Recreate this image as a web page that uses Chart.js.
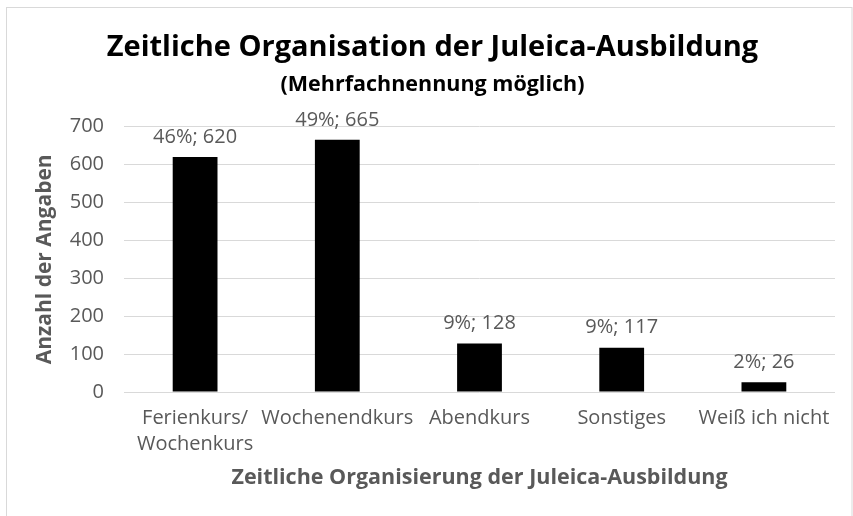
<!DOCTYPE html>
<html>
<head>
<meta charset="utf-8">
<script src="https://cdn.jsdelivr.net/npm/chart.js@4.4.0/dist/chart.umd.min.js"></script>
<style>
  html, body { margin: 0; padding: 0; background: #fff; }
  #wrap { width: 853px; height: 516px; position: relative; }
</style>
</head>
<body>
<div id="wrap"><canvas id="chart"></canvas></div>
<script>
// chart data
const categories = [["Ferienkurs/", "Wochenkurs"], "Wochenendkurs", "Abendkurs", "Sonstiges", "Weiß ich nicht"];
const counts = [620, 665, 128, 117, 26];
const percents = ["46%", "49%", "9%", "9%", "2%"];
const yTicks = [0, 100, 200, 300, 400, 500, 600, 700];

const grey = "#595959";
const fontFamily = "'Open Sans', Roboto, sans-serif";

// draws "46%; 620" above each bar
const barLabels = {
  id: "barLabels",
  afterDatasetsDraw(chart) {
    const ctx = chart.ctx;
    const meta = chart.getDatasetMeta(0);
    ctx.save();
    ctx.font = "20px " + fontFamily;
    ctx.fillStyle = grey;
    ctx.textAlign = "center";
    ctx.textBaseline = "middle";
    meta.data.forEach(function (bar, i) {
      ctx.fillText(percents[i] + "; " + counts[i], bar.x, bar.y - 20);
    });
    ctx.restore();
  },
};

// thin frame round the whole chart
const frame = {
  id: "frame",
  beforeDraw(chart) {
    const ctx = chart.ctx;
    ctx.save();
    ctx.strokeStyle = "#d9d9d9";
    ctx.lineWidth = 1;
    ctx.strokeRect(6.5, 7.5, 845.5, 520);
    ctx.restore();
  },
};

let ctx = document.getElementById("chart").getContext("2d");

let config = {
  type: "bar",
  data: {
    labels: categories,
    datasets: [
      {
        data: counts,
        backgroundColor: "#000000",
        barPercentage: 0.63,
        categoryPercentage: 0.5,
      },
    ],
  },
  options: {
    responsive: true,
    maintainAspectRatio: false,
    animation: false,
    layout: {
      padding: { left: 30, right: 18, top: 0, bottom: 25 },
    },
    plugins: {
      legend: { display: false },
      tooltip: { enabled: false },
      title: {
        display: true,
        text: "Zeitliche Organisation der Juleica-Ausbildung",
        color: "#000000",
        font: { family: fontFamily, size: 29, weight: "bold", lineHeight: 1.2 },
        padding: { top: 30, bottom: 4 },
      },
      subtitle: {
        display: true,
        text: "(Mehrfachnennung möglich)",
        color: "#000000",
        font: { family: fontFamily, size: 21.5, weight: "bold", lineHeight: 1.2 },
        padding: { top: 3, bottom: 29 },
      },
    },
    scales: {
      x: {
        afterFit: function (scale) {
          scale.height = 99;
        },
        grid: { display: false, drawTicks: false },
        border: { display: false },
        ticks: {
          color: grey,
          font: { family: fontFamily, size: 20, lineHeight: 1.3 },
          padding: 13,
          maxRotation: 0,
          autoSkip: false,
        },
        title: {
          display: true,
          text: "Zeitliche Organisierung der Juleica-Ausbildung",
          color: grey,
          font: { family: fontFamily, size: 21.5, weight: "bold", lineHeight: 1.2 },
          padding: { top: 10, bottom: 0 },
        },
      },
      y: {
        min: 0,
        max: yTicks[yTicks.length - 1],
        afterBuildTicks: function (scale) {
          scale.ticks = yTicks.map(function (v) { return { value: v }; });
        },
        afterFit: function (scale) {
          scale.width = 94;
        },
        grid: { color: "#d9d9d9", drawTicks: false },
        border: { display: false },
        ticks: {
          color: grey,
          font: { family: fontFamily, size: 20 },
          padding: 20,
        },
        title: {
          display: true,
          text: "Anzahl der Angaben",
          color: grey,
          font: { family: fontFamily, size: 21, weight: "bold", lineHeight: 1.2 },
          padding: { top: 2, bottom: 0 },
        },
      },
    },
  },
  plugins: [barLabels, frame],
};

let myChart = new Chart(ctx, config);
</script>
</body>
</html>
